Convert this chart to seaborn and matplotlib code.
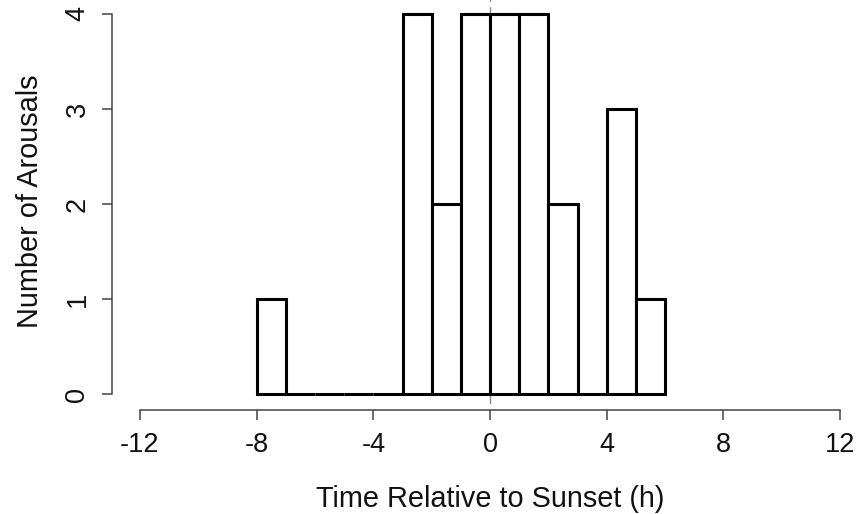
import numpy as np
import pandas as pd
import matplotlib
matplotlib.use("Agg")
import matplotlib.pyplot as plt
import seaborn as sns

# Data (1-hour bins)
bin_edges = [-8, -7, -6, -5, -4, -3, -2, -1, 0, 1, 2, 3, 4, 5, 6]
counts = [1, 0, 0, 0, 0, 4, 2, 4, 4, 4, 2, 0, 3, 1]
x_ticks = [-12, -8, -4, 0, 4, 8, 12]
y_ticks = [0, 1, 2, 3, 4]

centers = [(a + b) / 2 for a, b in zip(bin_edges[:-1], bin_edges[1:])]
df = pd.DataFrame({"time": centers, "n": counts})

sns.set_style("white")
plt.rcParams['font.family'] = ['Liberation Sans', 'DejaVu Sans']

fig = plt.figure(figsize=(8.6, 5.14), dpi=100)
W, H = 860, 514
ppx = 700 / 24.0
ppy = 95.0
xlo, xhi = -12.5, 12.5
ylo, yhi = -0.1, 4.16
left_px = 490 + xlo * ppx
right_px = 490 + xhi * ppx
top_px = 394 - yhi * ppy
bot_px = 394 - ylo * ppy
ax = fig.add_axes([left_px / W, (H - bot_px) / H, (right_px - left_px) / W, (bot_px - top_px) / H])

ax.axvline(0, color="#888888", lw=1.0, ls=(0, (6, 4)), zorder=0)
sns.histplot(data=df, x="time", weights="n", bins=bin_edges, ax=ax,
             color="white", edgecolor="black", linewidth=2.2, alpha=1, zorder=2)

ax.set_xlim(xlo, xhi)
ax.set_ylim(ylo, yhi)
ax.set_xticks(x_ticks)
ax.set_xticklabels([str(t) for t in x_ticks])
ax.set_yticks(y_ticks)
ax.set_yticklabels([str(t) for t in y_ticks])

for s in ["top", "right"]:
    ax.spines[s].set_visible(False)
axcol = "#444444"
ax.spines["bottom"].set_position(("outward", (410 - bot_px) * 0.72))
ax.spines["left"].set_position(("outward", (left_px - 112) * 0.72))
ax.spines["bottom"].set_bounds(-12, 12)
ax.spines["left"].set_bounds(0, 4)
for s in ["bottom", "left"]:
    ax.spines[s].set_color(axcol)
    ax.spines[s].set_linewidth(1.1)

ax.tick_params(axis="both", which="major", direction="out", length=7.5, width=1.1,
               color=axcol, labelsize=19.5, labelcolor="#111111", bottom=True, left=True)
ax.tick_params(axis="x", pad=8)
ax.tick_params(axis="y", pad=8, labelrotation=90)
for lab in ax.get_yticklabels():
    lab.set_va("center")

ax.set_xlabel("Time Relative to Sunset (h)", fontsize=20.8, labelpad=20, color="#111111")
ax.set_ylabel("Number of Arousals", fontsize=20.8, labelpad=15, color="#111111")
ax.grid(False)

fig.savefig("out.png", dpi=100)
